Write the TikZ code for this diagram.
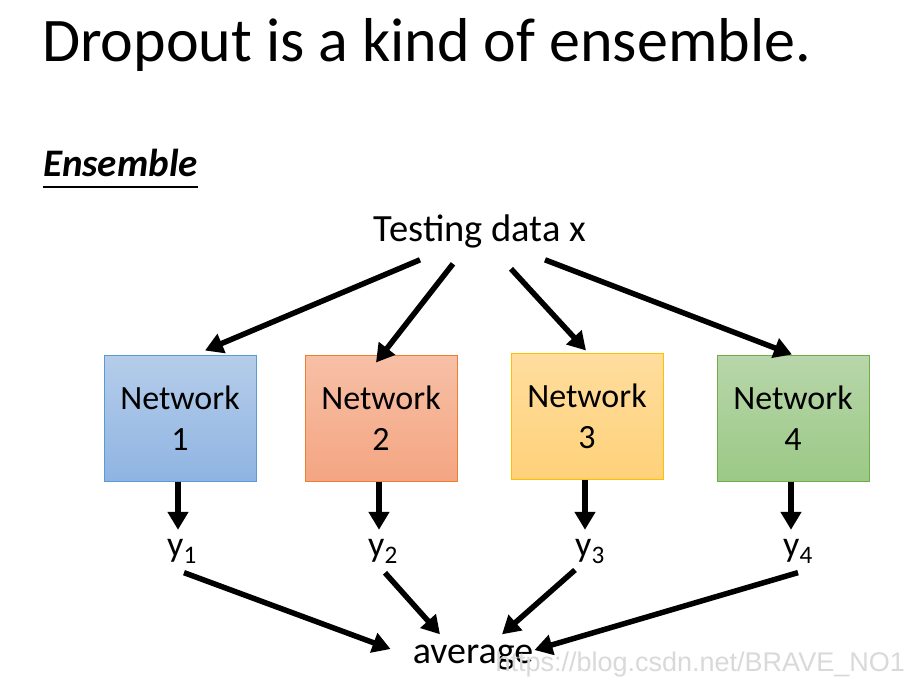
\documentclass[tikz,border=0pt]{standalone}
\usepackage{fontspec}
\setmainfont{Carlito}
\newfontfamily\markfont{Liberation Sans}
\usetikzlibrary{positioning, arrows.meta}

\definecolor{blueT}{HTML}{B5CDEA}
\definecolor{blueB}{HTML}{8FB4E2}
\definecolor{blueD}{HTML}{5B9BD5}
\definecolor{orangeT}{HTML}{F7C0A6}
\definecolor{orangeB}{HTML}{F4A582}
\definecolor{orangeD}{HTML}{ED7D31}
\definecolor{goldT}{HTML}{FFDD9E}
\definecolor{goldB}{HTML}{FFD27A}
\definecolor{goldD}{HTML}{FFC000}
\definecolor{greenT}{HTML}{B8D6AA}
\definecolor{greenB}{HTML}{9BC986}
\definecolor{greenD}{HTML}{70AD47}

\begin{document}
\begin{tikzpicture}[
	x=1pt, y=-1pt,
	netbox/.style={rectangle, draw, line width=1pt, inner sep=0pt, minimum width=152pt, minimum height=126pt, align=center, font=\fontsize{34}{41}\selectfont},
	outlab/.style={inner sep=0pt, outer xsep=0pt, outer ysep=9pt, font=\fontsize{36}{40}\selectfont},
	arr/.style={->, line width=5.5pt},
	>={Triangle[length=18pt, width=20pt]}
]

\useasboundingbox (0,0) rectangle (911,685);

\node[anchor=base west, inner sep=0pt, font=\fontsize{62}{70}\selectfont] (title) at (42,62) {Dropout is a kind of ensemble.};
\node[anchor=base west, inner sep=0pt, font=\fontsize{39}{42}\selectfont\bfseries\itshape] (ens) at (43,176) {Ensemble};
\draw[line width=2.5pt] ([yshift=-11pt]ens.base west) -- ([yshift=-11pt]ens.base east);

\node[anchor=base, inner sep=0pt, font=\fontsize{38.5}{42}\selectfont] (test) at (480,241) {Testing data x};

\node[netbox, top color=blueT, bottom color=blueB, draw=blueD] (net1) at (180,418) {Network\\1};
\node[netbox, top color=orangeT, bottom color=orangeB, draw=orangeD, right=48pt of net1] (net2) {Network\\2};
\node[netbox, top color=goldT, bottom color=goldB, draw=goldD, right=53pt of net2, yshift=2pt] (net3) {Network\\3};
\node[netbox, top color=greenT, bottom color=greenB, draw=greenD, right=53pt of net3, yshift=-2pt] (net4) {Network\\4};

\node[outlab, anchor=base] (y1) at (182,556) {y\textsubscript{1}};
\node[outlab, anchor=base] (y2) at (383,556) {y\textsubscript{2}};
\node[outlab, anchor=base] (y3) at (590,556) {y\textsubscript{3}};
\node[outlab, anchor=base] (y4) at (798,556) {y\textsubscript{4}};

\node[anchor=base, inner sep=0pt, font=\fontsize{38}{42}\selectfont] (avg) at (473,663) {average};
\node[anchor=base east, inner sep=0pt, text=black!15, font=\markfont\fontsize{27}{30}\selectfont] (mark) at (905,671) {https://blog.csdn.net/BRAVE\_NO1};

% testing data to the networks
\draw[arr] ([shift={(-60pt,-12pt)}]test.south) -- ([shift={(25pt,4pt)}]net1.north);
\draw[arr] ([shift={(-27pt,-16pt)}]test.south) -- ([shift={(-5pt,-8pt)}]net2.north);
\draw[arr] ([shift={(31pt,-21pt)}]test.south) -- ([shift={(-1pt,2pt)}]net3.north);
\draw[arr] ([shift={(65pt,-12pt)}]test.south) -- ([shift={(-1pt,0pt)}]net4.north);

\foreach \i/\j in {net1/y1, net2/y2, net3/y3, net4/y4}
	\draw[arr] ([xshift=-2pt]\i.south) -- ([xshift=-2pt]\i.south |- \j.north);

% outputs to the average
\draw[arr] ([xshift=2pt]y1.south) -- ([shift={(-22pt,8pt)}]avg.west);
\draw[arr] ([xshift=2pt]y2.south) -- ([shift={(-33pt,10pt)}]avg.north);
\draw[arr] ([xshift=-15pt, yshift=3pt]y3.south) -- ([shift={(29pt,10pt)}]avg.north);
\draw[arr] (y4.south) -- ([shift={(1pt,7pt)}]avg.east);

\end{tikzpicture}
\end{document}
